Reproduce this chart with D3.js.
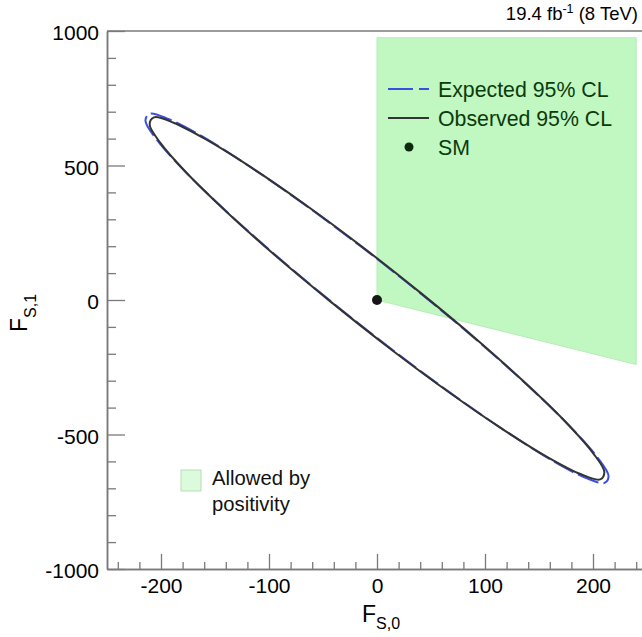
<!DOCTYPE html>
<html>
<head>
<meta charset="utf-8">
<script src="https://cdn.jsdelivr.net/npm/d3@7"></script>
<style>
  html, body { margin: 0; padding: 0; background: #fff; }
  svg { display: block; font-family: "Liberation Sans", Arial, Helvetica, sans-serif; }
</style>
</head>
<body>
<svg id="chart" width="642" height="637"></svg>
<script>
// Region allowed by positivity constraints (F_S,0, F_S,1 corners)
const positivityF0 = [0, 0, 240, 240];
const positivityF1 = [0, 975, 975, -240];

// Observed 95% CL contour
const observedF0 = [206.5, 210.5, 200.2, 176.2, 140.2, 94.7, 42.7, -12.2, -66.3, -115.8, -157.5, -188.4,
                    -206.5, -210.5, -200.2, -176.2, -140.2, -94.7, -42.7, 12.2, 66.3, 115.8, 157.4, 188.4];
const observedF1 = [-667, -640, -570, -460, -319, -155, 19, 193, 354, 491, 595, 659,
                    679, 652, 582, 472, 331, 167, -7, -181, -342, -479, -583, -647];

// Expected 95% CL contour
const expectedF0 = [210.7, 214.4, 203.5, 178.7, 141.8, 95.2, 42.1, -13.9, -68.9, -119.3, -161.4, -192.6,
                    -210.7, -214.4, -203.5, -178.7, -141.8, -95.2, -42.1, 13.9, 68.9, 119.3, 161.4, 192.6];
const expectedF1 = [-680, -654, -582, -470, -326, -159, 19, 196, 360, 500, 607, 672,
                    692, 666, 594, 482, 338, 171, -7, -184, -348, -488, -595, -660];

// Standard Model point
const smF0 = [0];
const smF1 = [0];

// Axis ticks
const xMajorTicks = [-200, -100, 0, 100, 200];
const xMinorTicks = [-240, -220, -180, -160, -140, -120, -80, -60, -40, -20, 20, 40, 60, 80, 120, 140, 160, 180, 220, 240];
const yMajorTicks = [-1000, -500, 0, 500, 1000];
const yMinorTicks = [-900, -800, -700, -600, -400, -300, -200, -100, 100, 200, 300, 400, 600, 700, 800, 900];

// Legend entries
const legendLabels = ["Expected 95% CL", "Observed 95% CL", "SM"];
const positivityLabel = ["Allowed by", "positivity"];

const svg = d3.select("#chart");
const x = d3.scaleLinear().domain([-250, 250]).range([107, 647]);
const y = d3.scaleLinear().domain([-1000, 1000]).range([569, 31]);

const axisColor = "#7a7a7a";
const obsColor = "#333333";
const expColor = "#3a4fe0";
const legendText = "#0b3a0b";

// Positivity region
svg.append("path")
  .datum(d3.zip(positivityF0, positivityF1))
  .attr("d", d3.line().x(d => x(d[0])).y(d => y(d[1])).curve(d3.curveLinearClosed))
  .attr("fill", "#c1f8c1")
  .attr("stroke", "#b6ecb6")
  .attr("stroke-width", 1);

// Top frame line
svg.append("line")
  .attr("x1", x(-250)).attr("x2", 642).attr("y1", y(1000)).attr("y2", y(1000))
  .attr("stroke", axisColor).attr("stroke-width", 1.5);

// X axis
const fmt = d => String(d);
const xAxisMinor = d3.axisBottom(x).tickValues(xMinorTicks).tickSizeInner(-7).tickSizeOuter(0).tickFormat("");
const xAxisMajor = d3.axisBottom(x).tickValues(xMajorTicks).tickSizeInner(-15).tickSizeOuter(0).tickPadding(9)
  .tickFormat(fmt);
svg.append("g").attr("transform", `translate(0,${y(-1000)})`).call(xAxisMinor);
svg.append("g").attr("transform", `translate(0,${y(-1000)})`).call(xAxisMajor);

// Y axis
const yAxisMinor = d3.axisLeft(y).tickValues(yMinorTicks).tickSizeInner(-9).tickSizeOuter(0).tickFormat("");
const yAxisMajor = d3.axisLeft(y).tickValues(yMajorTicks).tickSizeInner(-18).tickSizeOuter(0).tickPadding(8)
  .tickFormat(fmt);
svg.append("g").attr("transform", `translate(${x(-250)},0)`).call(yAxisMinor);
const gy = svg.append("g").attr("transform", `translate(${x(-250)},0)`).call(yAxisMajor);

svg.selectAll(".domain").attr("stroke", axisColor).attr("stroke-width", 1.5);
svg.selectAll(".tick line").attr("stroke", axisColor).attr("stroke-width", 1.3);
svg.selectAll(".tick text").attr("font-size", 21).attr("fill", "#000")
  .attr("font-family", "'Liberation Sans', Arial, sans-serif");
gy.selectAll(".tick text").attr("dy", "0.42em");

// Contours
const contour = d3.line().x(d => x(d[0])).y(d => y(d[1])).curve(d3.curveCatmullRomClosed.alpha(0.5));

svg.append("path")
  .datum(d3.zip(expectedF0, expectedF1))
  .attr("d", contour)
  .attr("fill", "none")
  .attr("stroke", expColor)
  .attr("stroke-width", 2)
  .attr("stroke-dasharray", "22,5");

svg.append("path")
  .datum(d3.zip(observedF0, observedF1))
  .attr("d", contour)
  .attr("fill", "none")
  .attr("stroke", obsColor)
  .attr("stroke-width", 2);

// SM point
svg.selectAll("circle.sm")
  .data(d3.zip(smF0, smF1))
  .join("circle")
  .attr("class", "sm")
  .attr("cx", d => x(d[0]))
  .attr("cy", d => y(d[1]))
  .attr("r", 5)
  .attr("fill", "#161616");

// Legend (top right)
const leg = svg.append("g");
const legRows = [89, 118, 147];
leg.append("line").attr("x1", 388).attr("x2", 429).attr("y1", legRows[0]).attr("y2", legRows[0])
  .attr("stroke", expColor).attr("stroke-width", 2).attr("stroke-dasharray", "25,6");
leg.append("line").attr("x1", 388).attr("x2", 429).attr("y1", legRows[1]).attr("y2", legRows[1])
  .attr("stroke", obsColor).attr("stroke-width", 2);
leg.append("circle").attr("cx", 409).attr("cy", legRows[2]).attr("r", 4.5).attr("fill", "#0e2a0e");
leg.selectAll("text")
  .data(legendLabels)
  .join("text")
  .attr("x", 438)
  .attr("y", (d, i) => legRows[i] + 8)
  .attr("font-size", 21.3)
  .attr("fill", legendText)
  .text(d => d);

// Positivity legend (bottom left)
svg.append("rect")
  .attr("x", 181).attr("y", 470).attr("width", 20).attr("height", 21)
  .attr("fill", "#dcfadc").attr("stroke", "#b8dcb8").attr("stroke-width", 1);
svg.selectAll("text.pos")
  .data(positivityLabel)
  .join("text")
  .attr("class", "pos")
  .attr("x", 212)
  .attr("y", (d, i) => 485 + i * 26)
  .attr("font-size", 20.3)
  .attr("fill", "#111")
  .text(d => d);

// Luminosity label
const lumi = svg.append("text")
  .attr("x", 638).attr("y", 20)
  .attr("text-anchor", "end")
  .attr("font-size", 18.5)
  .attr("fill", "#000");
lumi.append("tspan").text("19.4 fb");
lumi.append("tspan").attr("font-size", 12.5).attr("dy", -7).text("-1");
lumi.append("tspan").attr("dy", 7).text(" (8 TeV)");

// Axis titles
const xt = svg.append("text").attr("x", 362).attr("y", 622).attr("font-size", 23).attr("fill", "#000");
xt.append("tspan").text("F");
xt.append("tspan").attr("font-size", 16).attr("dy", 7).text("S,0");

const yt = svg.append("text").attr("transform", "translate(27,332) rotate(-90)")
  .attr("font-size", 23).attr("fill", "#000");
yt.append("tspan").text("F");
yt.append("tspan").attr("font-size", 16).attr("dy", 9).text("S,1");
</script>
</body>
</html>
